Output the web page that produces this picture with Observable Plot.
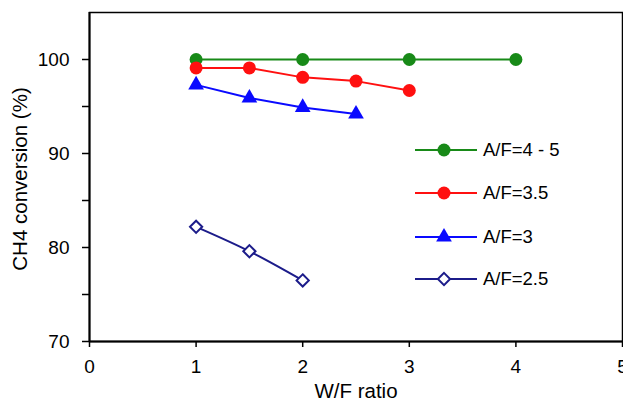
<!DOCTYPE html>
<html>
<head>
<meta charset="utf-8">
<script src="https://cdn.jsdelivr.net/npm/d3@7"></script>
<script src="https://cdn.jsdelivr.net/npm/@observablehq/plot@0.6"></script>
<style>
  body { margin: 0; background: #fff; font-family: "Liberation Sans", Arial, sans-serif; }
  #chart { position: relative; width: 623px; height: 403px; }
  #legend { position: absolute; left: 0; top: 0; pointer-events: none; }
</style>
</head>
<body>
<div id="chart"></div>
<script>
// CH4 conversion versus water/fuel ratio, one series per air/fuel ratio
const seriesNames = ["A/F=4 - 5", "A/F=3.5", "A/F=3", "A/F=2.5"];
const seriesColors = ["#188a18", "#ff1010", "#0a0aff", "#1c1c8a"];
const seriesSymbols = ["circle", "circle", "triangle2", "diamond2"];
const seriesFilled = [true, true, true, false];

const wfAF45 = [1, 2, 3, 4];
const convAF45 = [100, 100, 100, 100];
const wfAF35 = [1, 1.5, 2, 2.5, 3];
const convAF35 = [99.1, 99.1, 98.1, 97.7, 96.7];
const wfAF3 = [1, 1.5, 2, 2.5];
const convAF3 = [97.3, 95.9, 94.9, 94.2];
const wfAF25 = [1, 1.5, 2];
const convAF25 = [82.2, 79.6, 76.5];

const xTicks = [0, 1, 2, 3, 4, 5];
const yTicks = [70, 80, 90, 100];
const yMinorTicks = [75, 85, 95];

const wfSets = [wfAF45, wfAF35, wfAF3, wfAF25];
const convSets = [convAF45, convAF35, convAF3, convAF25];

const rows = seriesNames.flatMap((name, i) =>
  wfSets[i].map((wf, j) => ({ series: name, wf, conv: convSets[i][j] })));

const markSize = { "circle": 6.5, "triangle2": 7.5, "diamond2": 5.5 };

const lineMarks = seriesNames.map((name, i) =>
  Plot.line(rows.filter(d => d.series === name), {
    x: "wf", y: "conv", stroke: seriesColors[i], strokeWidth: 2,
    curve: i === 3 ? "natural" : "linear"
  }));

const dotMarks = seriesNames.map((name, i) =>
  Plot.dot(rows.filter(d => d.series === name), {
    x: "wf", y: "conv", symbol: () => seriesSymbols[i], r: markSize[seriesSymbols[i]],
    fill: seriesFilled[i] ? seriesColors[i] : "white",
    stroke: seriesColors[i], strokeWidth: seriesFilled[i] ? 0 : 2
  }));

const chart = Plot.plot({
  width: 623,
  height: 403,
  marginLeft: 89,
  marginRight: 1,
  marginTop: 12,
  marginBottom: 62,
  style: { fontFamily: "'Liberation Sans', Arial, sans-serif", background: "white", color: "black" },
  x: { domain: [0, 5] },
  y: { domain: [70, 105] },
  marks: [
    Plot.frame({ strokeWidth: 1.5 }),
    Plot.ruleX([0], { strokeWidth: 2 }),
    Plot.ruleY([70], { strokeWidth: 2 }),
    Plot.axisX(xTicks, { tickSize: 6, tickPadding: 12, fontSize: 19, label: null, strokeWidth: 1.5 }),
    Plot.axisY(yTicks, { tickSize: 7, tickPadding: 13, fontSize: 19, label: null, strokeWidth: 1.5 }),
    Plot.axisY(yMinorTicks, { tickSize: 7, tickFormat: () => "", label: null, strokeWidth: 1.5 }),
    Plot.text(["W/F ratio"], { frameAnchor: "bottom", dy: 50, fontSize: 20.5, lineAnchor: "middle", textAnchor: "middle" }),
    Plot.text(["CH4 conversion (%)"], { frameAnchor: "left", rotate: -90, dx: -69, dy: 2, fontSize: 20.5, lineAnchor: "middle", textAnchor: "middle" }),
    ...lineMarks,
    ...dotMarks
  ]
});

const container = document.getElementById("chart");
container.appendChild(chart);

// Legend drawn as an overlay in the upper right of the plot area
const legend = d3.select(container).append("svg")
  .attr("id", "legend").attr("width", 623).attr("height", 403);
const symbolTypes = { "circle": d3.symbolCircle, "triangle2": d3.symbolTriangle2, "diamond2": d3.symbolDiamond2 };
const rowY = [150, 193, 237, 279];
seriesNames.forEach((name, i) => {
  const g = legend.append("g").attr("transform", `translate(0,${rowY[i]})`);
  g.append("line").attr("x1", 415).attr("x2", 477).attr("y1", 0).attr("y2", 0)
    .attr("stroke", seriesColors[i]).attr("stroke-width", 2);
  const r = markSize[seriesSymbols[i]];
  g.append("path")
    .attr("transform", "translate(444,0)")
    .attr("d", d3.symbol(symbolTypes[seriesSymbols[i]], Math.PI * r * r)())
    .attr("fill", seriesFilled[i] ? seriesColors[i] : "white")
    .attr("stroke", seriesColors[i]).attr("stroke-width", seriesFilled[i] ? 0 : 2);
  g.append("text").attr("x", 483).attr("y", 0).attr("dy", "0.35em")
    .attr("font-size", 18.5).attr("fill", "black").text(name);
});
</script>
</body>
</html>
